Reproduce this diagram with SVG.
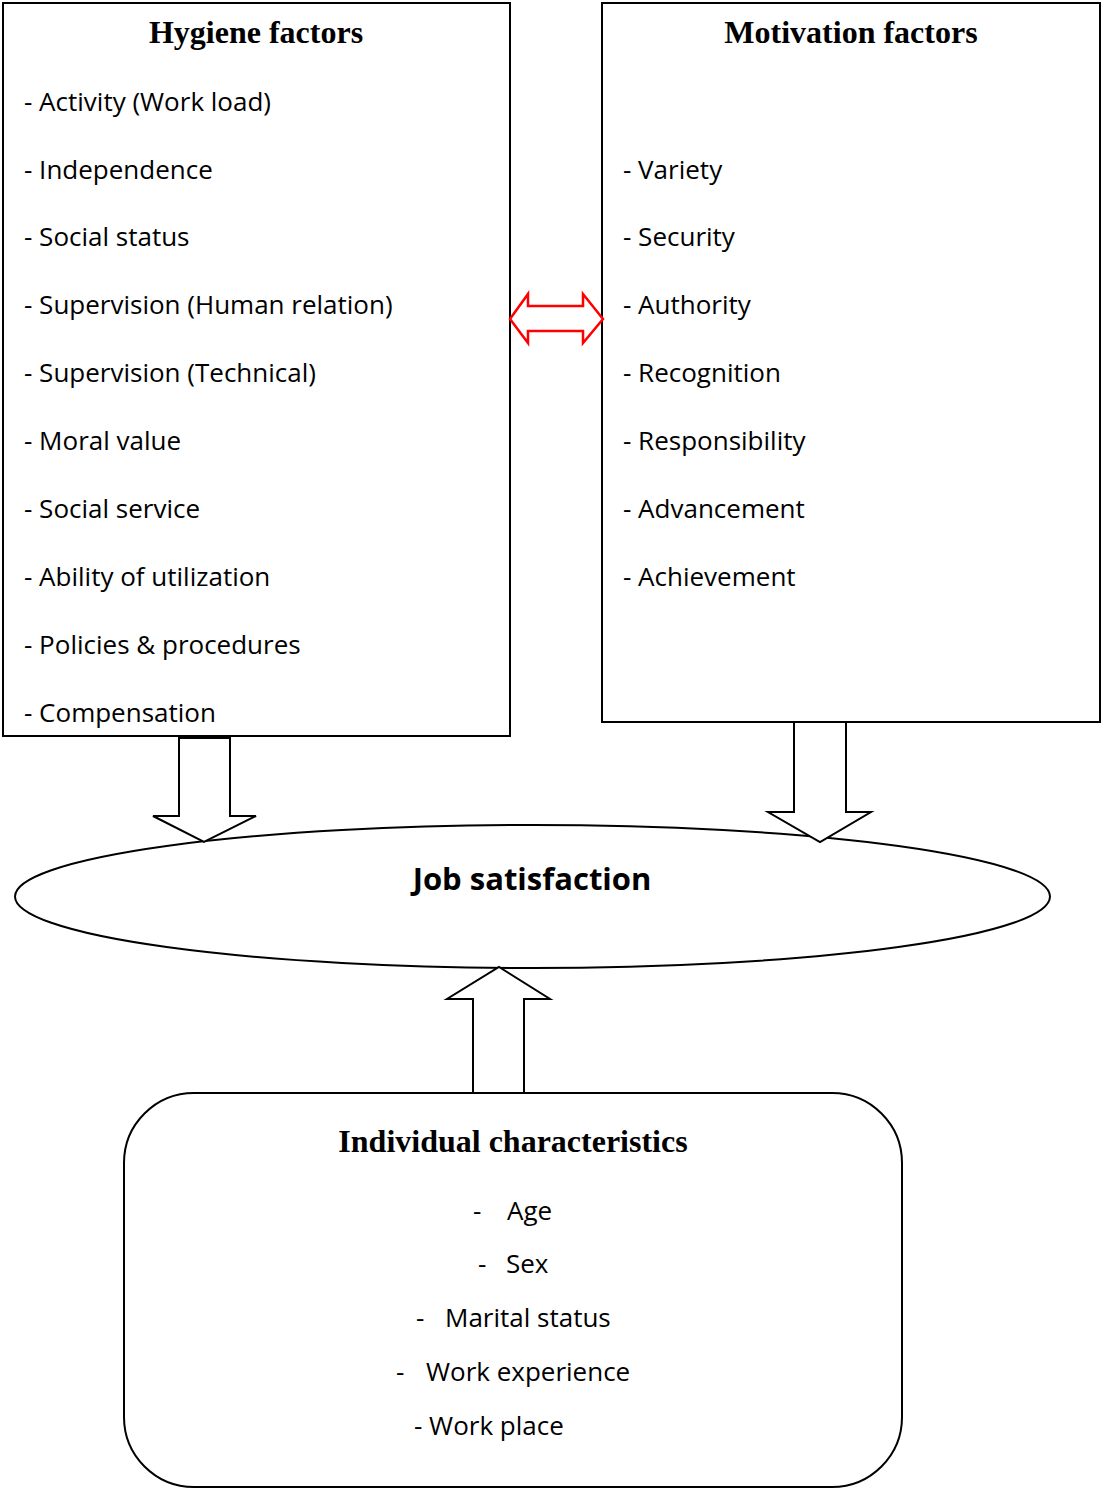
<svg xmlns="http://www.w3.org/2000/svg" width="1101" height="1489" viewBox="0 0 1101 1489">
  <style>
    .box { fill: #fff; stroke: #000; stroke-width: 2; }
    .blk { fill: #fff; stroke: #000; stroke-width: 2; stroke-linejoin: miter; }
    .red { fill: #fff; stroke: #f00; stroke-width: 2.5; }
    .title { font-family: "Liberation Serif", "Times New Roman", serif; font-weight: bold; font-size: 32px; text-anchor: middle; }
    .item { font-family: "Open Sans", "Noto Sans", sans-serif; font-size: 26px; fill: #000; }
    .main { font-family: "Open Sans", "Noto Sans", sans-serif; font-weight: bold; font-size: 31px; text-anchor: middle; }
  </style>
  <rect width="1101" height="1489" fill="#fff"/>

  <g id="hygiene">
    <rect class="box" x="3" y="3" width="507" height="733"/>
    <text class="title" x="256" y="43">Hygiene factors</text>
    <text class="item" x="24" y="111">- Activity (Work load)</text>
    <text class="item" x="24" y="179">- Independence</text>
    <text class="item" x="24" y="246">- Social status</text>
    <text class="item" x="24" y="314">- Supervision (Human relation)</text>
    <text class="item" x="24" y="382">- Supervision (Technical)</text>
    <text class="item" x="24" y="450">- Moral value</text>
    <text class="item" x="24" y="518">- Social service</text>
    <text class="item" x="24" y="586">- Ability of utilization</text>
    <text class="item" x="24" y="654">- Policies &amp; procedures</text>
    <text class="item" x="24" y="722">- Compensation</text>
  </g>

  <g id="motivation">
    <rect class="box" x="602" y="3" width="498" height="719"/>
    <text class="title" x="851" y="43">Motivation factors</text>
    <text class="item" x="623" y="179">- Variety</text>
    <text class="item" x="623" y="246">- Security</text>
    <text class="item" x="623" y="314">- Authority</text>
    <text class="item" x="623" y="382">- Recognition</text>
    <text class="item" x="623" y="450">- Responsibility</text>
    <text class="item" x="623" y="518">- Advancement</text>
    <text class="item" x="623" y="586">- Achievement</text>
  </g>

  <g id="satisfaction">
    <ellipse class="box" cx="532.5" cy="896.5" rx="517.5" ry="71.5"/>
    <text class="main" x="532" y="890">Job satisfaction</text>
  </g>

  <g id="individual">
    <rect class="box" x="124" y="1093" width="778" height="394" rx="70" ry="70"/>
    <text class="title" x="513" y="1152">Individual characteristics</text>
    <text class="item" x="473" y="1220">-</text>
    <text class="item" x="507" y="1220">Age</text>
    <text class="item" x="478" y="1273">-</text>
    <text class="item" x="506" y="1273">Sex</text>
    <text class="item" x="416" y="1327">-</text>
    <text class="item" x="445" y="1327">Marital status</text>
    <text class="item" x="396" y="1381">-</text>
    <text class="item" x="426" y="1381">Work experience</text>
    <text class="item" x="414" y="1435">- Work place</text>
  </g>

  <g id="connectors">
    <!-- two-way link between the factor boxes -->
    <path class="red" d="M510,319 L528,294 L528,306 L583,306 L583,294 L603,319 L583,343 L583,331 L528,331 L528,343 Z"/>
    <!-- hygiene factors down to job satisfaction -->
    <path class="blk" d="M179,738 L230,738 L230,816 L256,816 L204,842 L153,816 L179,816 Z"/>
    <!-- motivation factors down to job satisfaction -->
    <path class="blk" d="M794,722 L846,722 L846,812 L871,812 L820,842 L768,812 L794,812 Z"/>
    <!-- individual characteristics up to job satisfaction -->
    <path class="blk" d="M473,1093 L473,999 L447,999 L499,967 L550,999 L524,999 L524,1093 Z"/>
  </g>
</svg>
